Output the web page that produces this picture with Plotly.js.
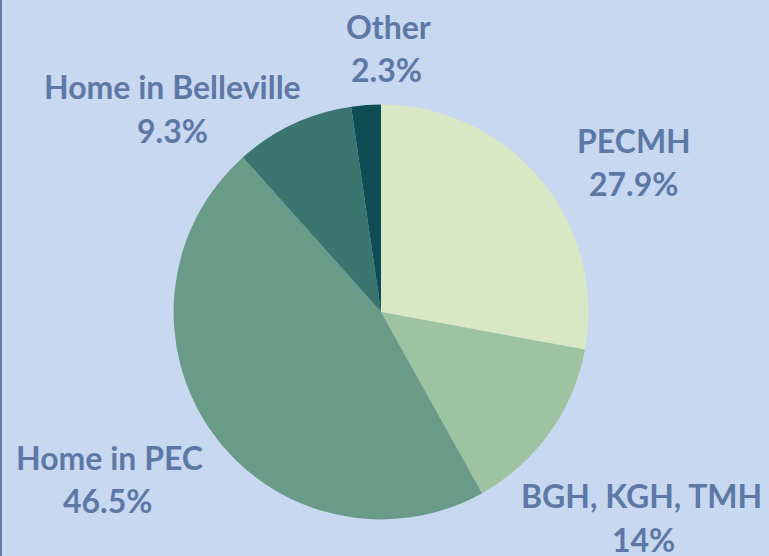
<!DOCTYPE html>
<html>
<head>
<meta charset="utf-8">
<script src="https://cdn.plot.ly/plotly-3.0.1.min.js"></script>
<style>
html,body{margin:0;padding:0;background:#c8d8f0;}
#chart{width:769px;height:556px;box-sizing:border-box;border-left:2px solid #6079a8;}
</style>
</head>
<body>
<div id="chart"></div>
<script>
// Data
const labels = ["PECMH", "BGH, KGH, TMH", "Home in PEC", "Home in Belleville", "Other"];
const percents = [27.9, 14, 46.5, 9.3, 2.3];
const colors = ["#d9e8c4", "#9ec3a0", "#6a9a88", "#3a7570", "#0f4d55"];

// Label placement (pixel centres of each text line: [labelX, labelY, pctX, pctY])
const W = 767, H = 556, X0 = 2;
const labelPlacement = [
  [634, 140, 634, 183.5],
  [641.5, 495, 643, 539],
  [109, 457, 107.5, 500],
  [172.5, 86, 172, 130],
  [388.5, 26, 386, 69.5]
];

const textFont = {family: "Lato", size: 32, color: "#5e78a6", weight: 700};

const trace = {
  type: "pie",
  labels: labels,
  values: percents,
  sort: false,
  direction: "clockwise",
  rotation: 0,
  marker: {colors: colors, line: {width: 0}},
  textinfo: "none",
  showlegend: false,
  domain: {x: [0.2237, 0.7646], y: [0.0647, 0.813]}
};

const annotations = [];
labels.forEach((lab, i) => {
  const p = labelPlacement[i];
  annotations.push({
    xref: "paper", yref: "paper",
    x: (p[0] - X0) / W, y: 1 - p[1] / H,
    xanchor: "center", yanchor: "middle",
    text: lab, showarrow: false, font: textFont
  });
  annotations.push({
    xref: "paper", yref: "paper",
    x: (p[2] - X0) / W, y: 1 - p[3] / H,
    xanchor: "center", yanchor: "middle",
    text: percents[i] + "%", showarrow: false, font: textFont
  });
});

const layout = {
  width: W,
  height: H,
  margin: {l: 0, r: 0, t: 0, b: 0},
  paper_bgcolor: "#c8d8f0",
  plot_bgcolor: "#c8d8f0",
  showlegend: false,
  annotations: annotations
};

Plotly.newPlot("chart", [trace], layout, {displayModeBar: false, staticPlot: true});
</script>
</body>
</html>
